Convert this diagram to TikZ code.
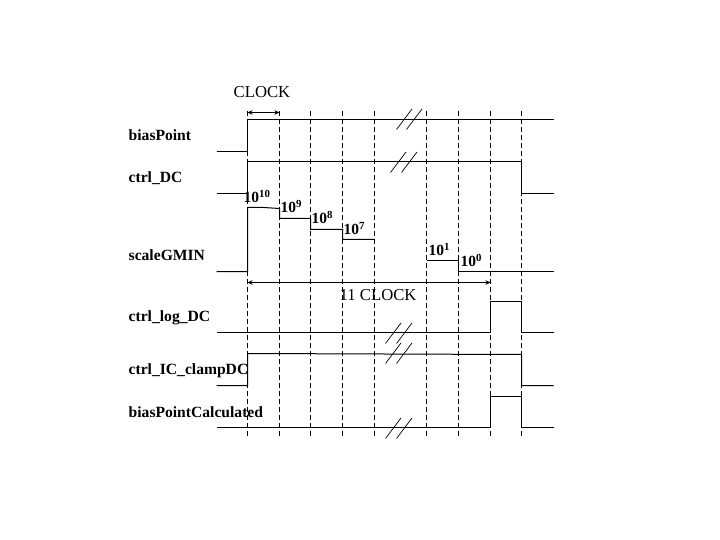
\documentclass[tikz,border=0pt]{standalone}
\usepackage{fontspec}
\setmainfont{Liberation Serif}
\usetikzlibrary{arrows.meta, positioning, calc}

\begin{document}
\begin{tikzpicture}[
  x=1pt, y=-1pt,
  sig/.style={draw=black, line width=1pt},
  tickline/.style={draw=black, line width=1pt, dash pattern=on 5pt off 3pt},
  slash/.style={draw=black, line width=0.7pt},
  span/.style={draw=black, line width=1pt, {Stealth[length=5pt,width=4.5pt]}-{Stealth[length=5pt,width=4.5pt]}},
  lbl/.style={anchor=base west, inner sep=0pt, font=\fontsize{15.6}{18}\selectfont\bfseries},
  val/.style={anchor=base west, inner sep=0pt, font=\fontsize{15.5}{18}\selectfont\bfseries},
  note/.style={anchor=base west, inner sep=0pt, font=\fontsize{16.7}{18}\selectfont},
]
\useasboundingbox (-0.5,-0.5) rectangle (719.5,539.5);

% Clock edges
\foreach \x in {247,279,310,342,374,426,458,490,521}
  \draw[tickline] (\x,110.5) -- (\x,435);

% Signal names
\node[lbl] (biasPoint) at (128,140) {biasPoint};
\node[lbl] (ctrlDC) at (128,182) {ctrl\_DC};
\node[lbl] (scaleGMIN) at (128,260) {scaleGMIN};
\node[lbl] (ctrlLogDC) at (128,321) {ctrl\_log\_DC};
\node[lbl] (ctrlClampDC) at (128,374) {ctrl\_IC\_clampDC};
\node[lbl] (calculated) at (128,417) {biasPointCalculated};

% Waveforms
\draw[sig] (216,151) -- (247,151) -- (247,119) -- (553,119);
\draw[sig] (216,193) -- (247,193) -- (247,161) -- (521,161) -- (521,193) -- (553,193);
\draw[sig] (216,271) -- (247,271) -- (247,207) -- (263,207) -- (279,208) -- (279,218)
  -- (310,218) -- (310,229) -- (342,229) -- (342,239) -- (374,239);
\draw[sig] (426,260) -- (458,260) -- (458,271) -- (553,271);
\draw[sig] (216,332) -- (490,332) -- (490,301) -- (521,301) -- (521,332) -- (553,332);
\draw[sig] (216,385) -- (247,385) -- (247,353) -- (521,354) -- (521,385) -- (553,385);
\draw[sig] (216,427) -- (490,427) -- (490,396) -- (521,396) -- (521,427) -- (553,427);

% Break marks
\foreach \x/\y in {396/129, 406/129, 390/172, 401/172, 385/343, 396/343, 385/363, 396/363, 385/438, 396/438}
  \draw[slash] (\x,\y) -- ++(15.5,-20.5);

% Gain steps
\node[val] (gainTen) at (243,202) {10$^{\mathbf{10}}$};
\node[val] (gainNine) at (280,212) {10$^{\mathbf{9}}$};
\node[val] (gainEight) at (311,223) {10$^{\mathbf{8}}$};
\node[val] (gainSeven) at (343,234) {10$^{\mathbf{7}}$};
\node[val] (gainOne) at (428,255) {10$^{\mathbf{1}}$};
\node[val] (gainZero) at (460,266) {10$^{\mathbf{0}}$};

% Clock spans
\coordinate (clkStart) at (247,112);
\coordinate (clkEnd) at (279,112);
\coordinate (runStart) at (247,282);
\coordinate (runEnd) at (490,282);
\draw[span] (clkStart) -- (clkEnd);
\draw[span] (runStart) -- (runEnd);
\node[note] (clkNote) at (233,97) {CLOCK};
\node[note] (runNote) at (339,300) {11 CLOCK};
\end{tikzpicture}
\end{document}
